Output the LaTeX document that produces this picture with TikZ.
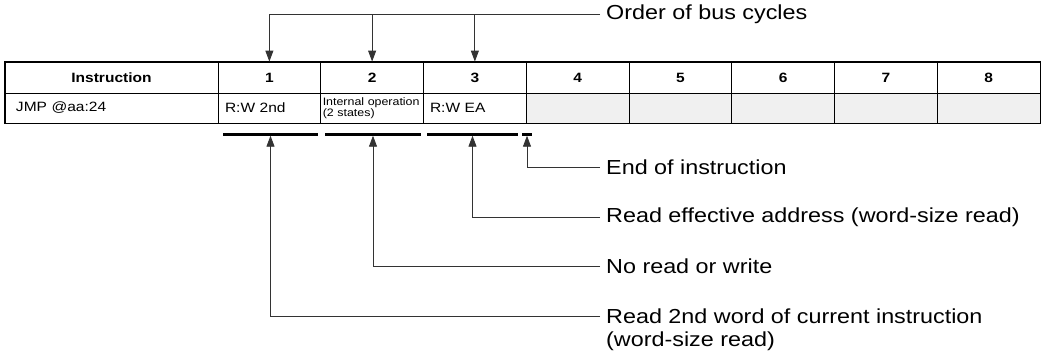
\documentclass[tikz,border=0pt]{standalone}
\usepackage{fontspec}
\setmainfont[FakeStretch=1.15]{Liberation Sans}
\usetikzlibrary{arrows.meta}
\definecolor{cellgray}{HTML}{F0F0F0}
\definecolor{linegray}{HTML}{333333}
\begin{document}
\begin{tikzpicture}[x=1pt,y=-1pt,
  hcell/.style={draw, line width=0.9pt, minimum height=31pt, minimum width=102.75pt, inner sep=0pt,
    font=\fontsize{13.5}{15}\selectfont\bfseries},
  rcell/.style={draw, line width=0.9pt, minimum height=30pt, inner xsep=5pt, inner ysep=0pt,
    text width=92.75pt, align=left, font=\fontsize{13.5}{15}\selectfont},
  emptycell/.style={rcell, fill=cellgray},
  bar/.style={fill=black, draw=none, minimum height=3pt, inner sep=0pt},
  lab/.style={anchor=west, inner xsep=6pt, inner ysep=0pt, font=\fontsize{20.3}{24}\selectfont},
  conn/.style={draw=linegray, line width=0.9pt},
  arr/.style={conn, -{Triangle[length=11pt,width=8pt]}}
]
\useasboundingbox (0,0) rectangle (1042,357);

% header row
\node[hcell, minimum width=213pt] (h0) at (111.5,77.5) {Instruction};
\node[hcell] (h1) at (269.375,77.5) {1};
\node[hcell] (h2) at (372.125,77.5) {2};
\node[hcell] (h3) at (474.875,77.5) {3};
\node[hcell] (h4) at (577.625,77.5) {4};
\node[hcell] (h5) at (680.375,77.5) {5};
\node[hcell] (h6) at (783.125,77.5) {6};
\node[hcell] (h7) at (885.875,77.5) {7};
\node[hcell] (h8) at (988.625,77.5) {8};

% data row
\node[rcell, text width=191pt, inner xsep=11pt] (r0) at (111.5,108) {JMP @aa:24};
\node[rcell, inner xsep=7pt, text width=88.75pt] (r1) at (269.375,108) {R:W 2nd};
\node[rcell, inner xsep=2pt, text width=98.75pt, font=\fontsize{10.8}{11}\selectfont] (r2) at (372.125,108) {Internal operation\\(2 states)};
\node[rcell, inner xsep=6.5pt, text width=89.75pt] (r3) at (474.875,108) {R:W EA};
\node[emptycell] (r4) at (577.625,108) {};
\node[emptycell] (r5) at (680.375,108) {};
\node[emptycell] (r6) at (783.125,108) {};
\node[emptycell] (r7) at (885.875,108) {};
\node[emptycell] (r8) at (988.625,108) {};

% outer border
\draw[line width=1.3pt] (h0.north west) rectangle (r8.south east);

% bars under the cycles
\node[bar, minimum width=95pt] (b1) at (270.5,134) {};
\node[bar, minimum width=96pt] (b2) at (373,134) {};
\node[bar, minimum width=91pt] (b3) at (472.5,134) {};
\node[bar, minimum width=10pt] (b4) at (527,134) {};

% labels
\node[lab] (order) at (600,14) {Order of bus cycles};
\node[lab] (lend) at (600,167) {End of instruction};
\node[lab] (lea) at (600,217) {Read effective address (word-size read)};
\node[lab] (lno) at (600,266) {No read or write};
\node[lab] (l2nd) at (600,316) {Read 2nd word of current instruction};
\node[lab] (l2ndb) at (600,341) {(word-size read)};

% top connectors
\draw[conn] (order.west) -- (h1.north |- order.west);
\draw[arr] (h1.north |- order.west) -- (h1.north);
\draw[arr] (h2.north |- order.west) -- (h2.north);
\draw[arr] (h3.north |- order.west) -- (h3.north);

% bottom connectors
\draw[arr] (lend.west) -| (b4.south);
\draw[arr] (lea.west) -| (b3.south);
\draw[arr] (lno.west) -| (b2.south);
\draw[arr] (l2nd.west) -| (b1.south);
\end{tikzpicture}
\end{document}
